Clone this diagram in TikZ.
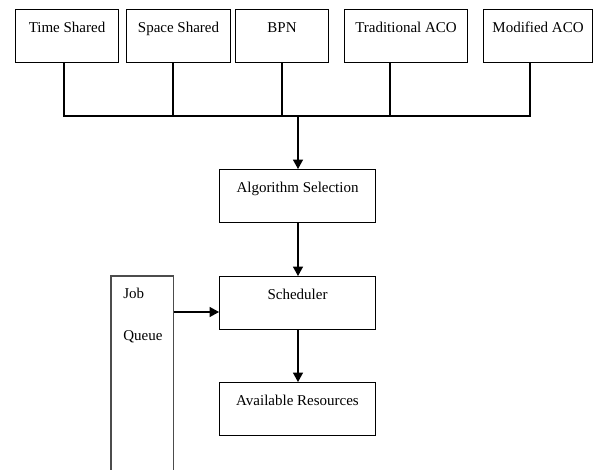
\documentclass[tikz,border=0pt]{standalone}
\usepackage{fontspec}
\setmainfont{Liberation Serif}
\usetikzlibrary{arrows.meta}
\begin{document}
\begin{tikzpicture}[x=0.75pt,y=-0.75pt,
  txt/.style={font=\fontsize{11.25}{13}\selectfont},
  box/.style={draw=black, line width=0.8pt, inner sep=0pt, txt,
    text height=17.25pt, text depth=22.5pt, minimum width=#1, anchor=north west},
  ln/.style={draw=black, line width=0.8pt},
  arr/.style={ln, -{Triangle[length=7pt,width=7.5pt]}},
  qln/.style={draw=black!70, line width=1pt}]
\fill[white] (0,0) rectangle (600,470);
\useasboundingbox (0,0) rectangle (600,470);

% top row
\node[box=77.25pt] (ts) at (15,9) {Time Shared};
\node[box=78pt] (ss) at (126,9) {Space Shared};
\node[box=69.75pt] (bpn) at (235,9) {BPN};
\node[box=92.25pt] (tra) at (344,9) {Traditional ACO};
\node[box=81.75pt] (mod) at (483,9) {Modified ACO};

% middle column
\node[box=117pt] (alg) at (219,169) {Algorithm Selection};
\node[box=117pt] (sch) at (219,276) {Scheduler};
\node[box=117pt] (av) at (219,382) {Available Resources};

% job queue
\node[inner sep=0pt, minimum width=46.5pt, minimum height=145.5pt, anchor=north west] (jq) at (111,276) {};
\draw[qln] (jq.south west) |- (jq.north) -| (jq.south east);
\node[txt, anchor=base west, inner sep=0pt] (job) at (123,299) {Job};
\node[txt, anchor=base west, inner sep=0pt] (queue) at (123,340) {Queue};

% bus
\coordinate (bus) at (298,116);
\draw[ln] (ts.south -| 64,0) |- (bus);
\draw[ln] (ss.south -| 173,0) -- (bus -| 173,0);
\draw[ln] (bpn.south -| 282,0) -- (bus -| 282,0);
\draw[ln] (tra.south -| 390,0) -- (bus -| 390,0);
\draw[ln] (mod.south -| 530,0) |- (bus);
\draw[arr] (bus) -- (bus |- alg.north);

% flow
\draw[arr] (alg.south -| bus) -- (sch.north -| bus);
\draw[arr] (sch.south -| bus) -- (av.north -| bus);
\draw[arr] (jq.east |- 0,312) -- (sch.west |- 0,312);
\end{tikzpicture}
\end{document}
